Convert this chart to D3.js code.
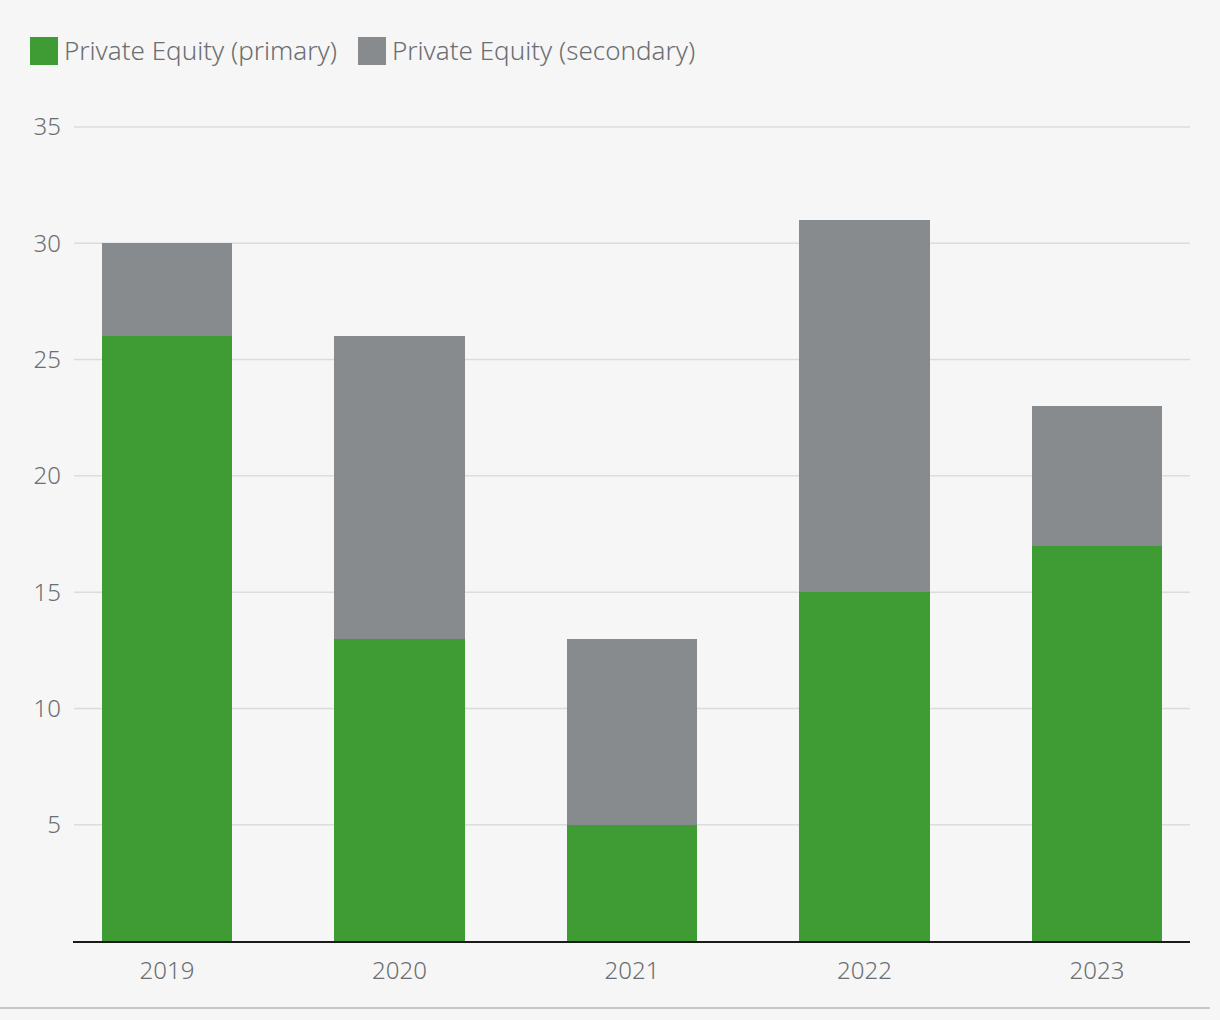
<!DOCTYPE html>
<html>
<head>
<meta charset="utf-8">
<script src="https://cdn.jsdelivr.net/npm/d3@7"></script>
<style>
html,body{margin:0;padding:0;background:#f6f6f6;}
svg{display:block;}
text{font-family:"Noto Sans","Open Sans",sans-serif;}
</style>
</head>
<body>
<svg id="chart" width="1220" height="1020"></svg>
<script>
const years = ["2019","2020","2021","2022","2023"];
const primary = [26,13,5,15,17];
const secondary = [4,13,8,16,6];
const seriesNames = ["Private Equity (primary)","Private Equity (secondary)"];
const seriesColors = ["#3f9c35","#888b8d"];
const yTicks = [5,10,15,20,25,30,35];

(function(){
const svg = d3.select("#chart");
svg.append("rect").attr("width",1220).attr("height",1020).attr("fill","#f6f6f6");

const mLeft = 74, mRight = 1190, mTop = 127, mBottom = 941;
const x = d3.scaleBand().domain(years).range([mLeft,mRight]).paddingInner(0.44).paddingOuter(0.12);
const y = d3.scaleLinear().domain([0,35]).range([mBottom,mTop]);

// grid
svg.append("g").selectAll("line").data(yTicks).join("line")
  .attr("x1",mLeft).attr("x2",mRight)
  .attr("y1",d=>y(d)).attr("y2",d=>y(d))
  .attr("stroke","#dcdcdc").attr("stroke-width",1.5);

// y labels
svg.append("g").selectAll("text").data(yTicks).join("text")
  .attr("x",61).attr("y",d=>y(d)).attr("dy","0.35em")
  .attr("text-anchor","end").attr("fill","#6b6e72")
  .attr("font-size",24).attr("font-weight",300).text(d=>d);

// stack
const rows = years.map((yr,i)=>({year:yr, primary:primary[i], secondary:secondary[i]}));
const stack = d3.stack().keys(["primary","secondary"])(rows);
svg.append("g").selectAll("g").data(stack).join("g")
  .attr("fill",(d,i)=>seriesColors[i])
  .selectAll("rect").data(d=>d).join("rect")
  .attr("shape-rendering","crispEdges")
  .attr("x",d=>x(d.data.year)).attr("width",x.bandwidth())
  .attr("y",d=>y(d[1])).attr("height",d=>y(d[0])-y(d[1]));

// x axis line
svg.append("line").attr("x1",mLeft-1).attr("x2",mRight).attr("y1",mBottom+1).attr("y2",mBottom+1)
  .attr("stroke","#1a1a1a").attr("stroke-width",2);

// x labels
svg.append("g").selectAll("text").data(years).join("text")
  .attr("x",d=>x(d)+x.bandwidth()/2).attr("y",979)
  .attr("text-anchor","middle").attr("fill","#6b6e72")
  .attr("font-size",24).attr("font-weight",300).text(d=>d);

// bottom rule
svg.append("line").attr("x1",0).attr("x2",1210).attr("y1",1008).attr("y2",1008)
  .attr("stroke","#c8c8c8").attr("stroke-width",2);

// legend
const legendX = [30,358];
const lg = svg.append("g").selectAll("g").data(seriesNames).join("g")
  .attr("transform",(d,i)=>`translate(${legendX[i]},37)`);
lg.append("rect").attr("width",28).attr("height",28).attr("fill",(d,i)=>seriesColors[i]);
lg.append("text").attr("x",34).attr("y",23).attr("fill","#6b6e72")
  .attr("font-size",26).attr("font-weight",300).text(d=>d);
})();
</script>
</body>
</html>
